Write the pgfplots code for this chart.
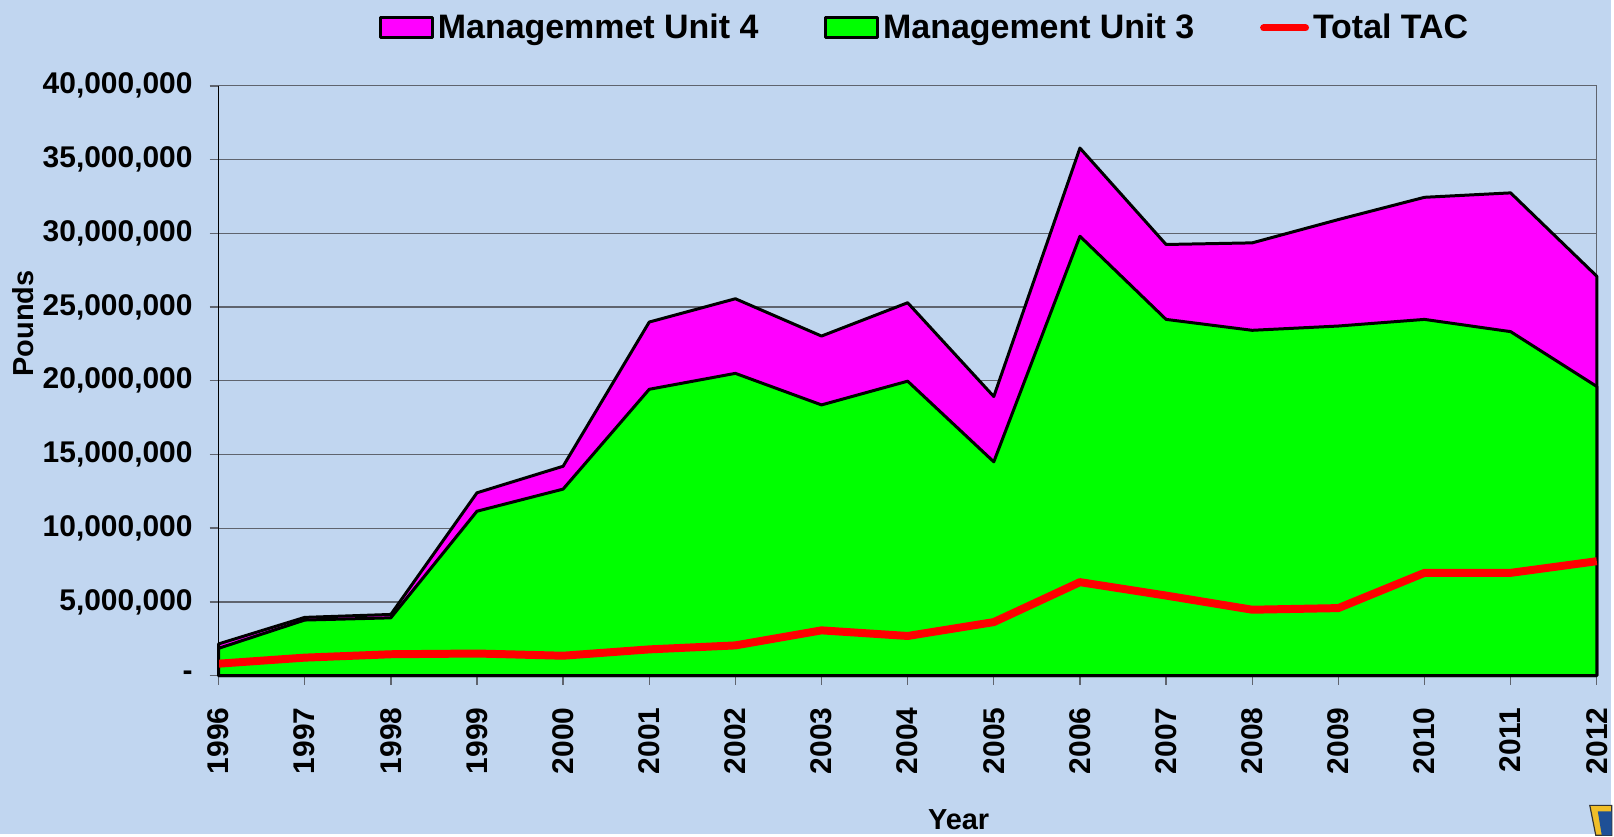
\documentclass[border=0pt]{standalone}
\usepackage{fontspec}
\setmainfont{Liberation Sans}
\usepackage{pgfplots}
\usepackage{pgfplotstable}
\pgfplotsset{compat=1.18}
\definecolor{bg}{RGB}{193,214,240}
\definecolor{mag}{RGB}{255,0,255}
\definecolor{grn}{RGB}{0,255,0}
\definecolor{gridc}{RGB}{95,100,110}
\definecolor{logoy}{RGB}{240,190,40}
\definecolor{logob}{RGB}{30,80,150}

\pgfplotstableread{
year mu3 total tac
1996 1850000 2150000 810000
1997 3770000 3950000 1220000
1998 3920000 4150000 1450000
1999 11150000 12400000 1500000
2000 12650000 14200000 1350000
2001 19420000 23980000 1780000
2002 20500000 25560000 2050000
2003 18360000 23030000 3070000
2004 19970000 25290000 2690000
2005 14500000 18930000 3630000
2006 29800000 35780000 6340000
2007 24160000 29240000 5430000
2008 23420000 29350000 4470000
2009 23710000 30930000 4580000
2010 24160000 32440000 6970000
2011 23330000 32740000 6970000
2012 19610000 27090000 7760000
}\data

\begin{document}
\begin{tikzpicture}
\fill[bg] (-109.5pt,-79.5pt) rectangle (697.5pt,338.5pt);
\begin{axis}[
  at={(0,0)}, anchor=south west, scale only axis,
  width=690.5pt, height=295.5pt,
  xmin=1996, xmax=2012, ymin=0, ymax=40000000,
  scaled y ticks=false,
  xtick={1996,1997,1998,1999,2000,2001,2002,2003,2004,2005,2006,2007,2008,2009,2010,2011,2012},
  xticklabels={1996,1997,1998,1999,2000,2001,2002,2003,2004,2005,2006,2007,2008,2009,2010,2011,2012},
  ytick={0,5000000,10000000,15000000,20000000,25000000,30000000,35000000,40000000},
  yticklabels={-,{5,000,000},{10,000,000},{15,000,000},{20,000,000},{25,000,000},{30,000,000},{35,000,000},{40,000,000}},
  tick label style={font=\fontsize{15}{17}\selectfont\bfseries},
  xticklabel style={yshift=-8pt, rotate=90, anchor=east},
  yticklabel style={xshift=-5pt},
  ymajorgrids, grid style={gridc, line width=0.6pt},
  axis line style={gridc, line width=0.6pt},
  tick align=outside, xtick pos=bottom, ytick pos=left, major tick length=4.5pt,
  tick style={gridc, line width=0.7pt},
  axis background/.style={fill=bg},
  ylabel={Pounds},
  ylabel style={at={(axis description cs:-0.142,0.597)}, anchor=center, font=\fontsize{14.5}{16}\selectfont\bfseries},
  xlabel={Year},
  xlabel style={at={(axis description cs:0.537,-0.244)}, anchor=center, font=\fontsize{14.5}{16}\selectfont\bfseries},
  legend columns=3,
  legend style={at={(axis description cs:0.5,1)}, anchor=center, yshift=29pt, xshift=9pt,
    draw=none, fill=none, font=\fontsize{17}{19}\selectfont\bfseries,
    /tikz/every even column/.append style={column sep=31pt}},
  clip=false,
]
\addplot[fill=mag, draw=black, line width=1.5pt, line join=round,
  legend image code/.code={\draw[fill=mag,draw=black,line width=1.5pt] (0pt,-5pt) rectangle (26pt,5pt);}]
  table[x=year,y=total]{\data} \closedcycle;
\addlegendentry{Managemmet Unit 4}
\addplot[fill=grn, draw=black, line width=1.5pt, line join=round,
  legend image code/.code={\draw[fill=grn,draw=black,line width=1.5pt] (0pt,-5pt) rectangle (26pt,5pt);}]
  table[x=year,y=mu3]{\data} \closedcycle;
\addlegendentry{Management Unit 3}
\addplot[red, line width=4pt, line join=round,
  legend image code/.code={\draw[red,line width=3.5pt,line cap=round] (0pt,0pt) -- (21pt,0pt);}]
  table[x=year,y=tac]{\data};
\addlegendentry{Total TAC}
\draw[black, line width=0.8pt] (rel axis cs:0,1) -- (rel axis cs:0,0) -- (rel axis cs:1,0);
\end{axis}
\fill[logoy, draw=black!80, line width=0.6pt] (687pt,-65pt) -- (698pt,-65pt) -- (698pt,-80pt) -- (690pt,-80pt) -- cycle;
\fill[logob] (691pt,-68pt) -- (698pt,-68pt) -- (698pt,-80pt) -- (693pt,-80pt) -- cycle;
\end{tikzpicture}
\end{document}
